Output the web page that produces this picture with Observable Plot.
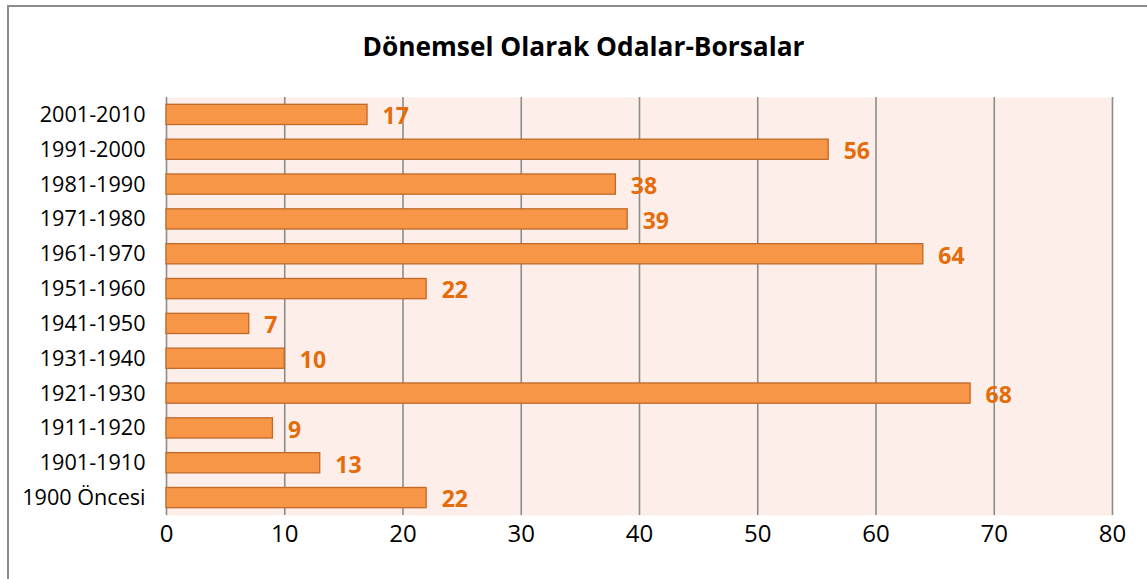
<!DOCTYPE html>
<html><head><meta charset="utf-8">
<script src="https://cdn.jsdelivr.net/npm/d3@7"></script>
<script src="https://cdn.jsdelivr.net/npm/@observablehq/plot@0.6"></script>
<style>
body{margin:0;background:#fff;font-family:"Open Sans",sans-serif;}
#wrap{position:relative;width:1147px;height:579px;overflow:hidden;}
#border{position:absolute;left:7px;top:5px;width:1160px;height:620px;border:2px solid #8c8c8c;box-sizing:border-box;}
#title{position:absolute;left:0;top:29px;width:1167px;text-align:center;font-weight:bold;font-size:26.3px;line-height:34px;color:#000;}
#chart{position:absolute;left:0;top:0;}
</style></head>
<body>
<div id="wrap"><div id="border"></div><div id="title">Dönemsel Olarak Odalar-Borsalar</div><div id="chart"></div></div>
<script>
const categories = ["2001-2010","1991-2000","1981-1990","1971-1980","1961-1970","1951-1960","1941-1950","1931-1940","1921-1930","1911-1920","1901-1910","1900 Öncesi"];
const values = [17,56,38,39,64,22,7,10,68,9,13,22];
const xTicks = [0,10,20,30,40,50,60,70,80];
const data = categories.map((c,i)=>({cat:c,v:values[i]}));
const plot = Plot.plot({
  width:1147, height:579,
  marginLeft:166, marginRight:35, marginTop:97, marginBottom:64,
  style:{fontFamily:"'Open Sans', sans-serif", background:"transparent"},
  x:{domain:[0,80], ticks:xTicks, label:null},
  y:{domain:categories, paddingInner:0.42, paddingOuter:0.21, round:false, label:null},
  marks:[
    Plot.frame({fill:"#fdeee9", stroke:null}),
    Plot.ruleX(xTicks,{stroke:"#8c8c8c", strokeWidth:1.6}),
    Plot.barX(data,{y:"cat", x:"v", fill:"#f79646", stroke:"#c0692a", strokeWidth:1.3}),
    Plot.text(data,{y:"cat", x:"v", text:d=>String(d.v), dx:15, textAnchor:"start", fill:"#e46c0a", fontWeight:"bold", fontSize:23, dy:2}),
    Plot.axisX({ticks:xTicks, tickSize:0, tickPadding:6, fontSize:24, fill:"#000", label:null, dy:3}),
    Plot.axisY({tickSize:0, tickPadding:21, fontSize:21.6, fill:"#000", label:null})
  ]
});
document.getElementById("chart").appendChild(plot);
</script>
</body></html>
